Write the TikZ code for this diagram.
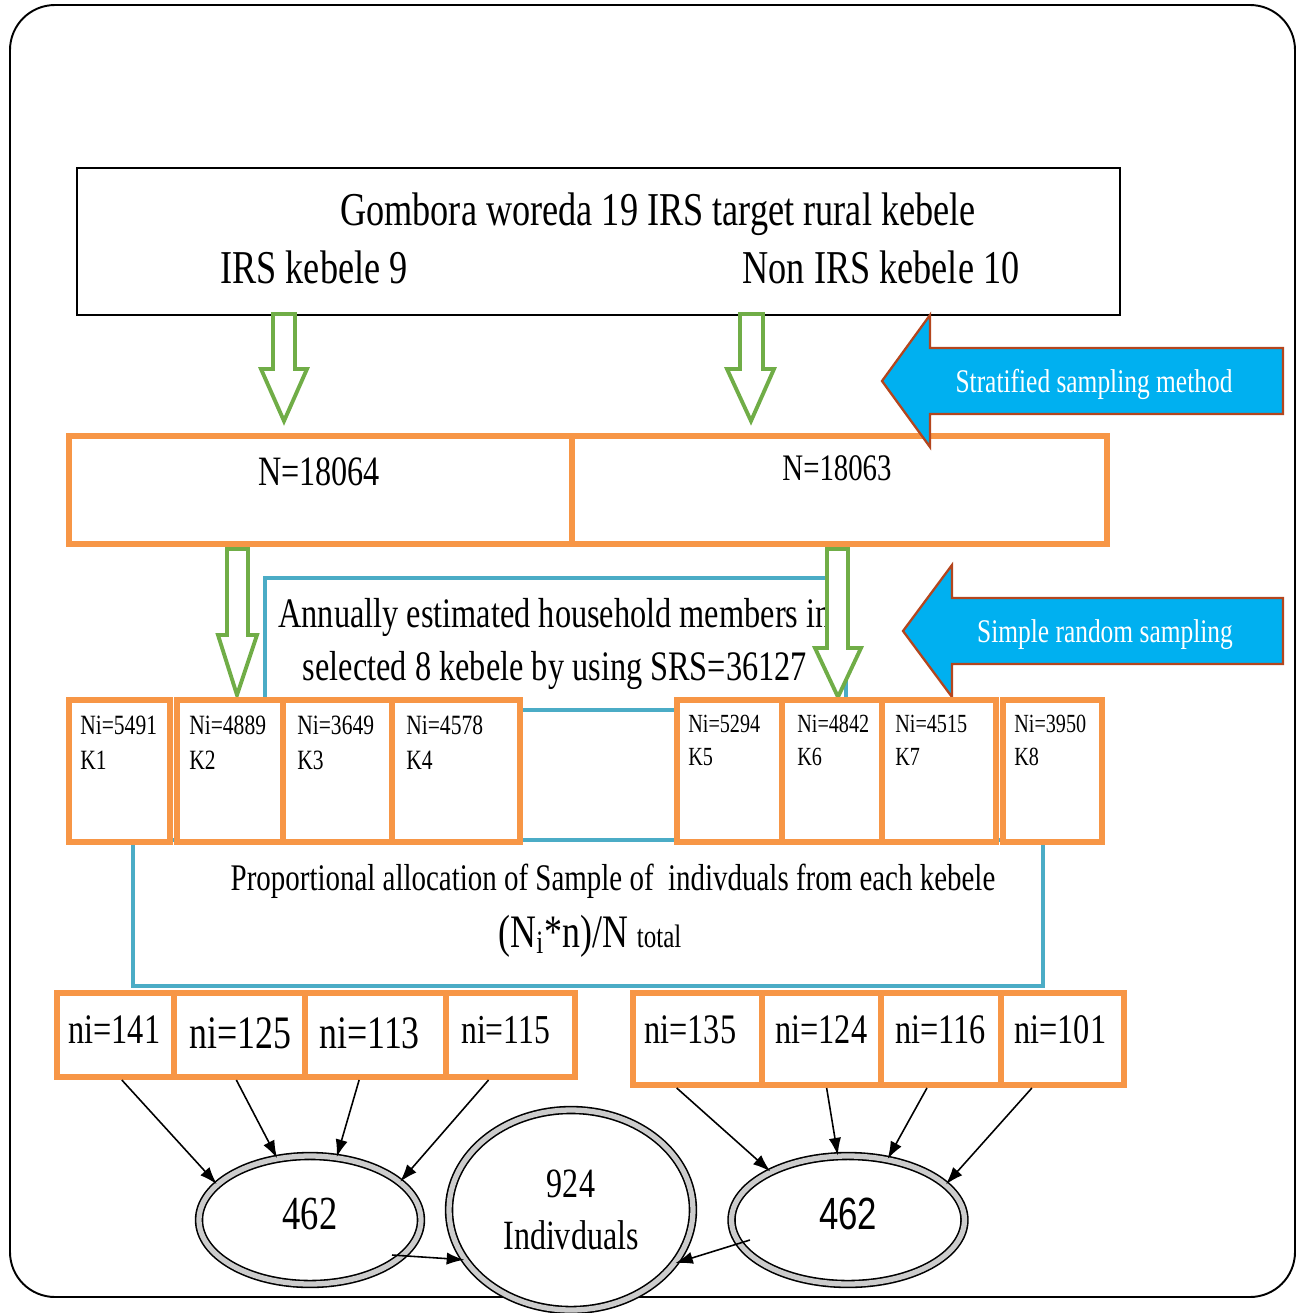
\documentclass[tikz,border=0pt]{standalone}
\usepackage{fontspec}
\setmainfont{Liberation Serif}[FakeStretch=0.77]
\newfontfamily\sansnarrow{Liberation Sans}[FakeStretch=0.77]
\usetikzlibrary{positioning,fit,calc,shapes.geometric,arrows.meta}

\definecolor{boxorange}{HTML}{F79646}
\definecolor{boxblue}{HTML}{4BACC6}
\definecolor{arrgreen}{HTML}{70AD47}
\definecolor{arrcyan}{HTML}{00B0F0}
\definecolor{arredge}{HTML}{B4461E}

\tikzset{
  obox/.style={draw=boxorange, line width=3.4pt, fill=white, inner sep=0pt},
  bbox/.style={draw=boxblue, line width=2.8pt, inner sep=0pt},
  hollow/.style={draw=arrgreen, line width=2.2pt, fill=white, line join=miter},
  cyanarr/.style={draw=arredge, line width=1.3pt, fill=arrcyan},
  oval/.style={ellipse, draw, fill=white, line width=0.9pt, double=gray!40, double distance=3pt, inner sep=0pt},
  flow/.style={-{Latex[length=10pt,width=7pt]}, line width=0.9pt},
  lbl/.style={inner sep=0pt, anchor=base},
  klbl/.style={inner sep=0pt, anchor=base west, font=\fontsize{15.9}{18}\selectfont},
  krlbl/.style={inner sep=0pt, anchor=base west, font=\fontsize{14.9}{18}\selectfont},
  nlbl/.style={inner sep=0pt, anchor=base west, font=\fontsize{23.9}{28}\selectfont},
}

\begin{document}
\begin{tikzpicture}[x=0.02cm, y=-0.02cm]
    \useasboundingbox (0,0) rectangle (1298,1313);

    % outer frame
    \node (frame) [draw, line width=1.1pt, rounded corners=0.9cm, inner sep=0pt, fit={(10,5) (1295,1297)}] {};

    % woreda box
    \node (top) [draw, line width=1.6pt, inner sep=0pt, fit={(77,168) (1120,315)}] {};
    \node (title) [lbl, font=\fontsize{26.8}{30}\selectfont] at (658,225) {Gombora woreda 19 IRS target rural kebele};
    \node (irs) [lbl, font=\fontsize{26.8}{30}\selectfont] at (314,283) {IRS kebele 9};
    \node (nonirs) [lbl, font=\fontsize{26.8}{30}\selectfont] at (881,283) {Non IRS kebele 10};

    \draw[hollow] (273,314) -- (295,314) -- (295,369) -- (307,369) -- (284,421) -- (261,369) -- (273,369) -- cycle;
    \draw[hollow] (740,314) -- (763,314) -- (763,369) -- (774,369) -- (751,421) -- (727,369) -- (740,369) -- cycle;

    % strata
    \node (n1) [obox, fit={(69,436) (572,544)}] {};
    \node (n2) [obox, fit={(572,436) (1107,544)}] {};
    \node (n1t) [lbl, font=\fontsize{23.8}{28}\selectfont] at (319,485) {N=18064};
    \node (n2t) [lbl, font=\fontsize{21.3}{25}\selectfont] at (837,480) {N=18063};

    \draw[cyanarr] (882,381) -- (930,315) -- (930,348) -- (1283,348) -- (1283,414) -- (930,414) -- (930,447) -- cycle;
    \node (strat) [lbl, text=white, font=\fontsize{18.8}{22}\selectfont] at (1094,392) {Stratified sampling method};

    % srs box
    \node (srs) [bbox, fill=white, fit={(265,578) (846,710)}] {};
    \node (srs1) [lbl, font=\fontsize{23.9}{28}\selectfont] at (555,627) {Annually estimated household members in};
    \node (srs2) [lbl, font=\fontsize{23.9}{28}\selectfont] at (555,680) {selected 8 kebele by using SRS=36127};

    \draw[hollow] (227,549) -- (248,549) -- (248,635) -- (257,635) -- (237,695) -- (218,635) -- (227,635) -- cycle;
    \draw[hollow] (827,549) -- (848,549) -- (848,648) -- (861,648) -- (838,697) -- (815,648) -- (827,648) -- cycle;

    % allocation box
    \node (prop) [bbox, fit={(133,840) (1043,986)}] {};
    \node (prop1) [lbl, font=\fontsize{21.4}{25}\selectfont] at (613,890) {Proportional allocation of Sample of\ \ indivduals from each kebele};
    \node (prop2) [lbl, font=\fontsize{26.5}{30}\selectfont] at (590,947) {(N\textsubscript{i}*n)/N {\fontsize{18.5}{22}\selectfont total}};

    \draw[cyanarr] (903,631) -- (952,565) -- (952,598) -- (1283,598) -- (1283,664) -- (952,664) -- (952,697) -- cycle;
    \node (srsarr) [lbl, text=white, font=\fontsize{18.8}{22}\selectfont] at (1105,642) {Simple random sampling};

    % kebeles
    \node (k1) [obox, fit={(69,700) (170,842)}] {};
    \node (k2) [obox, fit={(177,700) (283,842)}] {};
    \node (k3) [obox, fit={(283,700) (392,842)}] {};
    \node (k4) [obox, fit={(392,700) (520,842)}] {};
    \node (k5) [obox, fit={(677,700) (782,842)}] {};
    \node (k6) [obox, fit={(782,700) (882,842)}] {};
    \node (k7) [obox, fit={(882,700) (996,842)}] {};
    \node (k8) [obox, fit={(1003,700) (1102,842)}] {};

    \node (k1n) [klbl] at (80,734) {Ni=5491};
    \node (k1k) [klbl] at (80,769) {K1};
    \node (k2n) [klbl] at (189,734) {Ni=4889};
    \node (k2k) [klbl] at (189,769) {K2};
    \node (k3n) [klbl] at (297,734) {Ni=3649};
    \node (k3k) [klbl] at (297,769) {K3};
    \node (k4n) [klbl] at (406,734) {Ni=4578};
    \node (k4k) [klbl] at (406,769) {K4};
    \node (k5n) [krlbl] at (688,732) {Ni=5294};
    \node (k5k) [krlbl] at (688,765) {K5};
    \node (k6n) [krlbl] at (797,732) {Ni=4842};
    \node (k6k) [krlbl] at (797,765) {K6};
    \node (k7n) [krlbl] at (895,732) {Ni=4515};
    \node (k7k) [krlbl] at (895,765) {K7};
    \node (k8n) [krlbl] at (1014,732) {Ni=3950};
    \node (k8k) [krlbl] at (1014,765) {K8};

    % samples
    \node (s1) [obox, fit={(57,993) (174,1077)}] {};
    \node (s2) [obox, fit={(174,993) (305,1077)}] {};
    \node (s3) [obox, fit={(305,993) (446,1077)}] {};
    \node (s4) [obox, fit={(446,993) (575,1077)}] {};
    \node (s5) [obox, fit={(633,993) (762,1085)}] {};
    \node (s6) [obox, fit={(762,993) (881,1085)}] {};
    \node (s7) [obox, fit={(881,993) (1001,1085)}] {};
    \node (s8) [obox, fit={(1001,993) (1124,1085)}] {};

    \node (s1t) [nlbl] at (68,1043) {ni=141};
    \node (s2t) [nlbl, font=\fontsize{26.5}{30}\selectfont] at (189,1048) {ni=125};
    \node (s3t) [nlbl, font=\fontsize{26.5}{30}\selectfont] at (319,1048) {ni=113};
    \node (s4t) [nlbl, font=\fontsize{23.4}{28}\selectfont] at (461,1043) {ni=115};
    \node (s5t) [nlbl] at (644,1043) {ni=135};
    \node (s6t) [nlbl] at (775,1043) {ni=124};
    \node (s7t) [nlbl] at (895,1043) {ni=116};
    \node (s8t) [nlbl] at (1014,1043) {ni=101};

    % totals
    \node (e1) [oval, minimum width=4.44cm, minimum height=2.56cm, text height=0.64cm, text depth=0.28cm, font=\fontsize{27}{30}\selectfont] at (310,1220) {462};
    \node (e2) [oval, minimum width=4.88cm, minimum height=4cm, align=center, font=\fontsize{23.7}{29.6}\selectfont] at (571,1210) {924\\Indivduals};
    \node (e3) [oval, minimum width=4.66cm, minimum height=2.56cm, text height=0.64cm, text depth=0.28cm, font=\sansnarrow\fontsize{25.7}{30}\selectfont] at (848,1220) {462};

    \draw[flow] (s1.-82) -- (e1.159);
    \draw[flow] (s2.-94) -- (e1.118);
    \draw[flow] (s3.-110) -- (e1.67);
    \draw[flow] (s4.-116) -- (e1.23);
    \draw[flow] (s5.-113) -- (e3.148);
    \draw[flow] (s6.-84) -- (e3.99);
    \draw[flow] (s7.-106) -- (e3.57);
    \draw[flow] (s8.-122) -- (e3.20);

    \coordinate (e1o) at ($(e1.center)+(82,35)$);
    \coordinate (e3o) at ($(e3.center)+(-98,20)$);
    \draw[flow] (e1o) -- (e2.205);
    \draw[flow] (e3o) -- (e2.-27);
\end{tikzpicture}
\end{document}
